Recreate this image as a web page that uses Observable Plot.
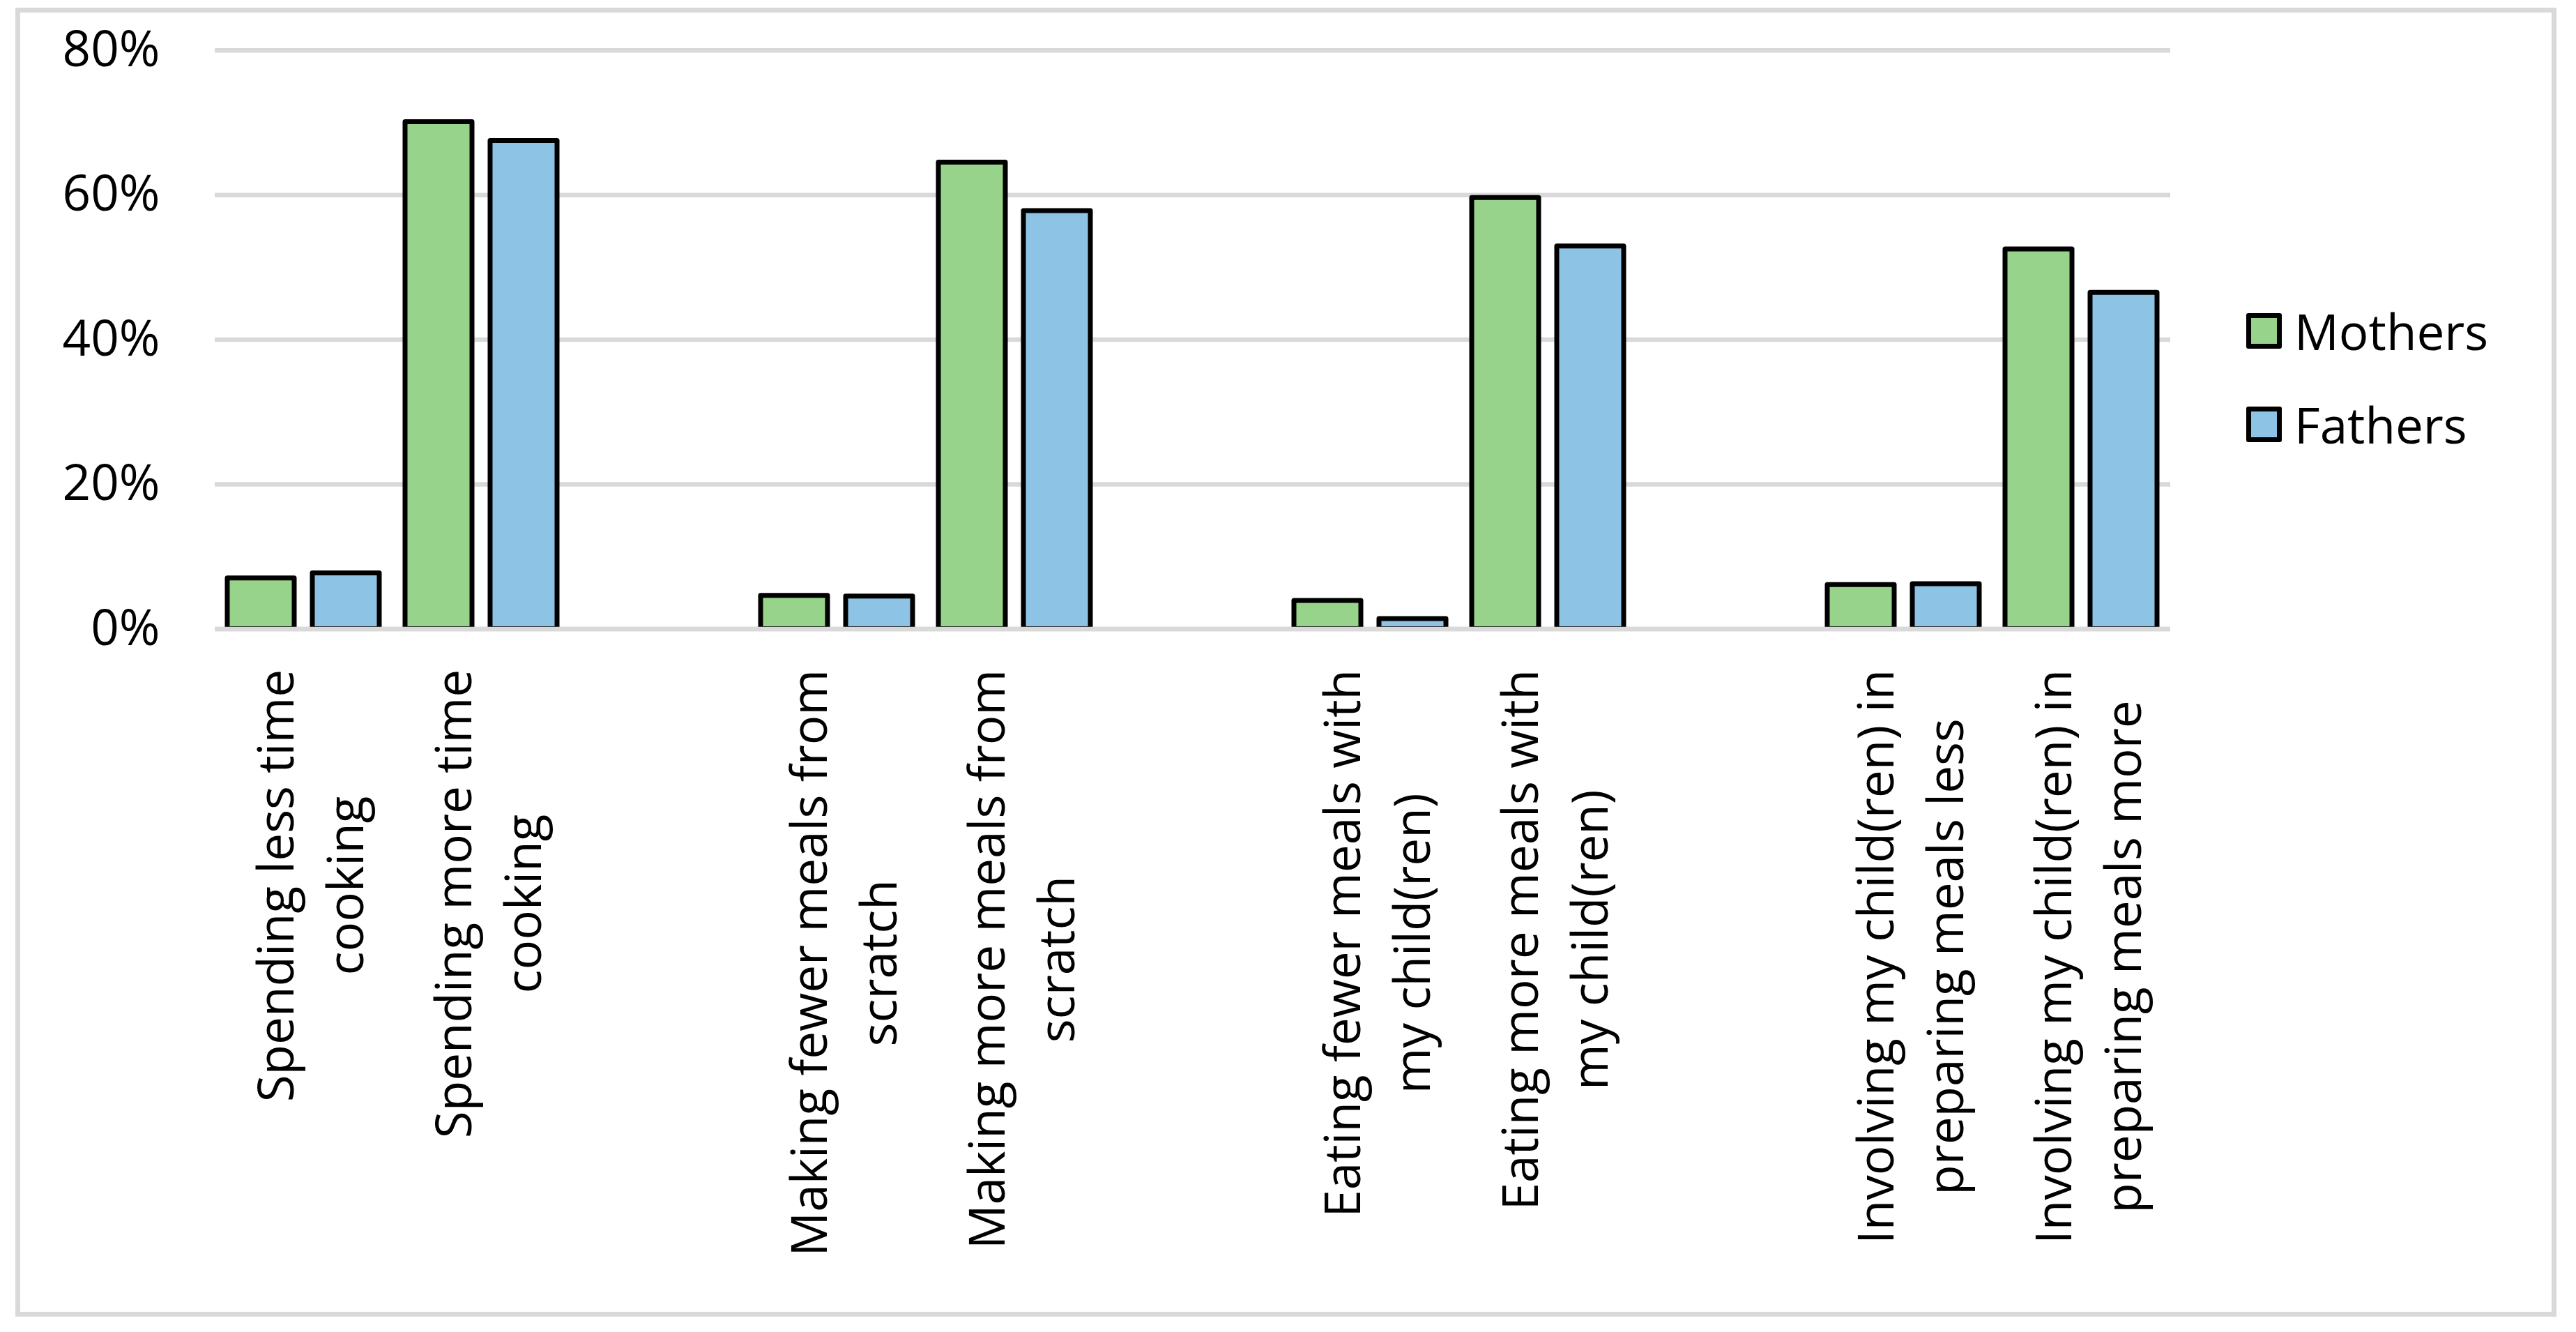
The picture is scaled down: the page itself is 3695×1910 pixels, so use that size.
<!DOCTYPE html>
<html>
<head>
<meta charset="utf-8">
<script src="https://cdn.jsdelivr.net/npm/d3@7"></script>
<script src="https://cdn.jsdelivr.net/npm/@observablehq/plot@0.6"></script>
<style>
  html, body { margin: 0; padding: 0; background: #fff; }
  #wrap { position: relative; width: 3695px; height: 1910px; overflow: hidden; font-family: "Open Sans", sans-serif; }
  #frame { position: absolute; left: 22px; top: 11px; width: 3631px; height: 1863px; border: 7px solid #d9d9d9; }
  #chart { position: absolute; left: 0; top: 0; }
  #legend { position: absolute; left: 3222px; top: 449px; }
  .row { display: flex; align-items: center; height: 51px; margin-bottom: 83px; }
  .sw { width: 37px; height: 37px; border: 7px solid #000; border-radius: 3px; }
  .lab { margin-left: 18px; font-size: 71px; line-height: 1; color: #000; white-space: nowrap; }
</style>
</head>
<body>
<div id="wrap">
  <div id="frame"></div>
  <div id="chart"></div>
  <div id="legend"></div>
</div>
<script>
// ---- data ----
const categories = [
  "Spending less time\ncooking",
  "Spending more time\ncooking",
  "Making fewer meals from\nscratch",
  "Making more meals from\nscratch",
  "Eating fewer meals with\nmy child(ren)",
  "Eating more meals with\nmy child(ren)",
  "Involving my child(ren) in\npreparing meals less",
  "Involving my child(ren) in\npreparing meals more"
];
const series = ["Mothers", "Fathers"];
const mothers = [7.0, 70.1, 4.6, 64.5, 3.9, 59.6, 6.1, 52.5];
const fathers = [7.7, 67.5, 4.5, 57.8, 1.4, 52.9, 6.2, 46.5];
const yTicks = [0, 20, 40, 60, 80];
const colors = ["#97d38b", "#8dc4e6"];

// category slots: each pair of categories followed by an empty slot
const gapKeys = [" ", "  ", "   "];
const slots = [];
categories.forEach((c, i) => {
  slots.push(c);
  if (i % 2 === 1 && i < categories.length - 1) slots.push(gapKeys[(i - 1) / 2]);
});

const rows = [];
categories.forEach((c, i) => {
  rows.push({cat: c, series: series[0], value: mothers[i]});
  rows.push({cat: c, series: series[1], value: fathers[i]});
});
gapKeys.forEach(g => {
  series.forEach(s => rows.push({cat: g, series: s, value: null}));
});

const fontSize = 71;
const ctx = document.createElement("canvas").getContext("2d");
ctx.font = `${fontSize}px "Open Sans"`;
const longest = (t) => Math.max(...t.split("\n").map(s => ctx.measureText(s).width));

const W = 3695, H = 1910;
const labelMarks = categories.map(c => Plot.text([c], {
  fx: d => d,
  text: d => d,
  frameAnchor: "bottom",
  rotate: -90,
  textAnchor: "middle",
  lineAnchor: "middle",
  lineHeight: 1.4,
  fontSize: fontSize,
  fill: "#000",
  dx: 3,
  dy: 58 + longest(c) / 2
}));

const chart = Plot.plot({
  width: W,
  height: H,
  marginLeft: 307,
  marginRight: W - 3114,
  marginTop: 71.8,
  marginBottom: H - 901.4,
  style: {fontFamily: "'Open Sans', sans-serif", fontSize: fontSize + "px", color: "#000", background: "transparent", overflow: "visible"},
  fx: {domain: slots, padding: 0, axis: null, label: null},
  x: {domain: series, paddingInner: 0.211, paddingOuter: 0.143, axis: null, label: null},
  y: {domain: [0, 80], ticks: yTicks, tickFormat: d => d + "%", tickSize: 0, tickPadding: 79, label: null},
  color: {domain: series, range: colors},
  marks: [
    Plot.ruleY(yTicks, {stroke: "#d9d9d9", strokeWidth: 6.5}),
    Plot.barY(rows, {fx: "cat", x: "series", y: "value", fill: "series", stroke: "#000", strokeWidth: 7, strokeLinejoin: "round"}),
    Plot.ruleY([0], {stroke: "#d9d9d9", strokeWidth: 6.5}),
    ...labelMarks
  ]
});
document.getElementById("chart").appendChild(chart);

// legend
const legend = document.getElementById("legend");
series.forEach((s, i) => {
  const row = document.createElement("div");
  row.className = "row";
  const sw = document.createElement("div");
  sw.className = "sw";
  sw.style.background = colors[i];
  const lab = document.createElement("div");
  lab.className = "lab";
  lab.textContent = s;
  row.appendChild(sw);
  row.appendChild(lab);
  legend.appendChild(row);
});
</script>
</body>
</html>
